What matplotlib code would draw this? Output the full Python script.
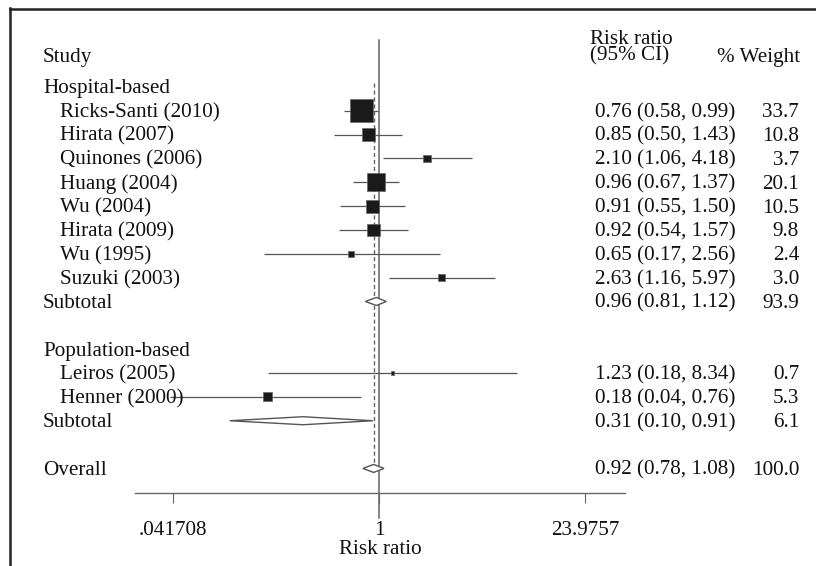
import matplotlib
matplotlib.use("Agg")
import matplotlib.pyplot as plt
from matplotlib.patches import Polygon
from matplotlib.lines import Line2D
import matplotlib.transforms as mtransforms

plt.rcParams['font.family'] = ['Liberation Serif', 'DejaVu Serif']

# ---------------- data ----------------
hosp_studies = ["Ricks-Santi (2010)", "Hirata (2007)", "Quinones (2006)", "Huang (2004)",
                "Wu (2004)", "Hirata (2009)", "Wu (1995)", "Suzuki (2003)"]
hosp_rr = [0.76, 0.85, 2.10, 0.96, 0.91, 0.92, 0.65, 2.63]
hosp_lo = [0.58, 0.50, 1.06, 0.67, 0.55, 0.54, 0.17, 1.16]
hosp_hi = [0.99, 1.43, 4.18, 1.37, 1.50, 1.57, 2.56, 5.97]
hosp_w = [33.7, 10.8, 3.7, 20.1, 10.5, 9.8, 2.4, 3.0]
hosp_sub = (0.96, 0.81, 1.12, 93.9)

pop_studies = ["Leiros (2005)", "Henner (2000)"]
pop_rr = [1.23, 0.18]
pop_lo = [0.18, 0.04]
pop_hi = [8.34, 0.76]
pop_w = [0.7, 5.3]
pop_sub = (0.31, 0.10, 0.91, 6.1)

overall = (0.92, 0.78, 1.08, 100.0)

group_labels = ["Hospital-based", "Population-based"]
tick_values = [0.041708, 1, 23.9757]
tick_labels = [".041708", "1", "23.9757"]

# ---------------- layout ----------------
W, H = 816, 566
fig = plt.figure(figsize=(W / 100, H / 100), dpi=100)
ax = fig.add_axes([135 / W, 1 - 493 / H, 490 / W, 453 / H])
ax.set_xscale('log')
ax.set_xlim(0.02322, 44.4)
ax.set_ylim(18.03, -0.964)

FS = 15.2
TXT = '#111111'
LINE = '#555555'
BOFF = 0.27  # baseline offset (rows) below row centre

# row assignment
rows_h = list(range(2, 2 + len(hosp_studies)))
row_hsub = rows_h[-1] + 1
row_pg = row_hsub + 2
rows_p = list(range(row_pg + 1, row_pg + 1 + len(pop_studies)))
row_psub = rows_p[-1] + 1
row_over = row_psub + 2

tr = mtransforms.blended_transform_factory(fig.transFigure, ax.transData)
X_GROUP = 43 / W
X_STUDY = 60 / W
X_CI = 595 / W
X_W = 799 / W

def put(x, y, s, ha='left'):
    ax.text(x, y + BOFF, s, transform=tr, fontsize=FS, va='baseline', ha=ha, color=TXT)

def ci_text(r, lo, hi):
    return f"{r:.2f} ({lo:.2f}, {hi:.2f})"

def weight_text(w):
    return f"{w:.1f}"

# header
ax.text(X_GROUP, -0.03, "Study", transform=tr, fontsize=FS, va='baseline', ha='left', color=TXT)
ax.text(590 / W, 1 - 30 / H, "Risk ratio\n(95% CI)", transform=fig.transFigure, fontsize=FS,
        va='top', ha='left', color=TXT, linespacing=0.8)
ax.text(800 / W, -0.03, "% Weight", transform=tr, fontsize=FS, va='baseline', ha='right', color=TXT)

box_scale = 8.13  # pt^2 per % weight

def draw_studies(names, rr, lo, hi, w, rows):
    for n, r, l, h, ww, y in zip(names, rr, lo, hi, w, rows):
        ax.plot([l, h], [y, y], color=LINE, lw=0.9, solid_capstyle='butt', zorder=2)
        put(X_STUDY, y, n)
        put(X_CI, y, ci_text(r, l, h))
        put(X_W, y, weight_text(ww), ha='right')
    ax.scatter(rr, rows, s=[box_scale * x for x in w], marker='s', color='#1a1a1a',
               edgecolor='#666666', linewidths=0.5, zorder=3)

def draw_diamond(label, est, y):
    r, l, h, ww = est
    hh = 0.168
    poly = Polygon([(l, y), (r, y - hh), (h, y), (r, y + hh)], closed=True,
                   facecolor='white', edgecolor=LINE, lw=1.0, zorder=4)
    ax.add_patch(poly)
    put(X_GROUP, y, label)
    put(X_CI, y, ci_text(r, l, h))
    put(X_W, y, weight_text(ww), ha='right')

put(X_GROUP, 1, group_labels[0])
draw_studies(hosp_studies, hosp_rr, hosp_lo, hosp_hi, hosp_w, rows_h)
draw_diamond("Subtotal", hosp_sub, row_hsub)

put(X_GROUP, row_pg, group_labels[1])
draw_studies(pop_studies, pop_rr, pop_lo, pop_hi, pop_w, rows_p)
draw_diamond("Subtotal", pop_sub, row_psub)

draw_diamond("Overall", overall, row_over)

# null line and overall dashed line
ax.axvline(1, ymin=-0.055, ymax=1, color='#666666', lw=1.1, clip_on=False, zorder=1)
ax.plot([overall[0], overall[0]], [0.84, row_over], color='#666666', lw=1.0,
        dashes=(3, 2), zorder=1)

# axis styling
for s in ['top', 'right', 'left']:
    ax.spines[s].set_visible(False)
ax.spines['bottom'].set_color('#666666')
ax.spines['bottom'].set_linewidth(1.0)
ax.set_yticks([])
ax.set_xticks(tick_values)
ax.set_xticklabels(tick_labels, fontsize=FS, color=TXT)
ax.xaxis.set_minor_locator(matplotlib.ticker.NullLocator())
ax.tick_params(axis='x', direction='out', length=7, width=0.8, color='#666666', pad=13)
ax.set_xlabel("Risk ratio", fontsize=FS, color=TXT, labelpad=0)
ax.patch.set_visible(False)

# frame lines (left and top)
fig.add_artist(Line2D([9.5 / W, 9.5 / W], [0, 1 - 8 / H], transform=fig.transFigure,
                      color='#222222', lw=1.8))
fig.add_artist(Line2D([9.5 / W, 1], [1 - 9 / H, 1 - 9 / H], transform=fig.transFigure,
                      color='#222222', lw=1.8))

fig.savefig("out.png", dpi=100)
